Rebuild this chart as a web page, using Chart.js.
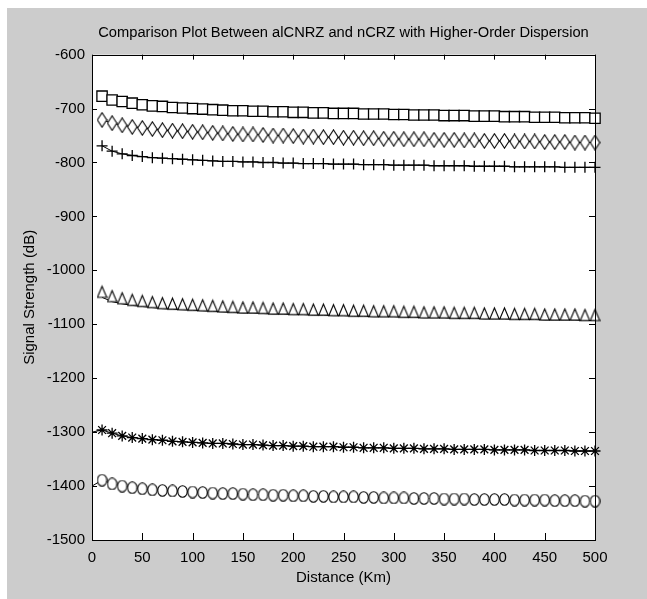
<!DOCTYPE html>
<html lang="en">
<head>
    <meta charset="UTF-8">
    <title>Comparison Plot</title>
    <style>
        body { margin: 0; background: #fff; }
        #fig { position: absolute; left: 7px; top: 8px; width: 640px; height: 591px; background: #cccccc; }
    </style>
</head>
<body>
    <div id="fig"><canvas id="plot" width="640" height="591"></canvas></div>
    <script src="https://cdn.jsdelivr.net/npm/chart.js@4.4.1/dist/chart.umd.min.js"></script>
    <script type="text/javascript">
        // distance in Km, one marker every 10 Km
        const distance = [10, 20, 30, 40, 50, 60, 70, 80, 90, 100,
            110, 120, 130, 140, 150, 160, 170, 180, 190, 200,
            210, 220, 230, 240, 250, 260, 270, 280, 290, 300,
            310, 320, 330, 340, 350, 360, 370, 380, 390, 400,
            410, 420, 430, 440, 450, 460, 470, 480, 490, 500];

        const squareSeries = [-677, -684, -687, -690, -693, -695, -696, -698, -699, -700,
            -701, -702, -703, -704, -704, -705, -705, -706, -706, -707,
            -707, -708, -708, -709, -709, -709, -710, -710, -710, -711,
            -711, -712, -712, -712, -713, -713, -713, -714, -714, -714,
            -715, -715, -715, -716, -716, -716, -717, -717, -717, -718];

        const diamondSeries = [-721, -727, -731, -734, -736, -738, -740, -741, -742, -743,
            -744, -745, -746, -747, -748, -748, -749, -750, -750, -751,
            -752, -752, -753, -753, -754, -754, -755, -755, -756, -756,
            -757, -757, -757, -758, -758, -758, -759, -759, -760, -760,
            -760, -761, -761, -761, -762, -762, -762, -763, -763, -763];

        const plusSeries = [-769, -779, -784, -787, -789, -791, -792, -793, -794, -795,
            -796, -797, -798, -798, -799, -799, -800, -800, -801, -801,
            -802, -802, -802, -803, -803, -803, -804, -804, -804, -805,
            -805, -805, -805, -806, -806, -806, -806, -807, -807, -807,
            -807, -808, -808, -808, -808, -808, -809, -809, -809, -809];

        // triangle trace: values read along the line, which runs on the triangle bases
        const triangleSeries = [-1050, -1058, -1062, -1065, -1067, -1069, -1071, -1072, -1073, -1074,
            -1075, -1076, -1077, -1078, -1079, -1079, -1080, -1081, -1081, -1082,
            -1082, -1083, -1083, -1084, -1084, -1085, -1085, -1086, -1086, -1086,
            -1087, -1087, -1088, -1088, -1088, -1089, -1089, -1089, -1090, -1090,
            -1090, -1091, -1091, -1091, -1092, -1092, -1092, -1092, -1093, -1093];

        const starSeries = [-1296, -1302, -1307, -1310, -1312, -1314, -1315, -1317, -1318, -1319,
            -1320, -1321, -1321, -1322, -1323, -1323, -1324, -1325, -1325, -1326,
            -1326, -1327, -1327, -1327, -1328, -1328, -1329, -1329, -1329, -1330,
            -1330, -1330, -1331, -1331, -1331, -1332, -1332, -1332, -1332, -1333,
            -1333, -1333, -1333, -1334, -1334, -1334, -1334, -1335, -1335, -1335];

        const circleSeries = [-1389, -1396, -1400, -1403, -1405, -1407, -1408, -1409, -1410, -1411,
            -1412, -1413, -1414, -1414, -1415, -1416, -1416, -1417, -1417, -1418,
            -1418, -1419, -1419, -1420, -1420, -1420, -1421, -1421, -1422, -1422,
            -1422, -1423, -1423, -1423, -1424, -1424, -1424, -1425, -1425, -1425,
            -1425, -1426, -1426, -1426, -1426, -1427, -1427, -1427, -1428, -1428];

        // the star and circle traces start at the axis (0 Km) without a marker
        const starStart = -1300;
        const circleStart = -1400;

        const xTicks = [0, 50, 100, 150, 200, 250, 300, 350, 400, 450, 500];
        const yTicks = [-1500, -1400, -1300, -1200, -1100, -1000, -900, -800, -700, -600];

        const FONT = "'Liberation Sans', Arial, sans-serif";
        const FSIZE = 15;

        // small canvases used as marker images (MATLAB markers are not square)
        function marker(w, h, draw) {
            const cv = document.createElement('canvas');
            cv.width = w; cv.height = h;
            const c = cv.getContext('2d');
            c.strokeStyle = '#000';
            c.fillStyle = '#fff';
            c.lineWidth = 1.1;
            c.beginPath();
            draw(c, w, h);
            c.fill();
            c.stroke();
            return cv;
        }
        const diamondImg = marker(11, 16, (c, w, h) => {
            c.moveTo(w / 2, 0.8); c.lineTo(w - 0.8, h / 2); c.lineTo(w / 2, h - 0.8); c.lineTo(0.8, h / 2); c.closePath();
        });
        const triangleImg = marker(11, 26, (c, w, h) => {
            c.moveTo(w / 2, 2); c.lineTo(w - 0.8, h / 2); c.lineTo(0.8, h / 2); c.closePath();
        });
        const circleImg = marker(11, 13, (c, w, h) => {
            c.ellipse(w / 2, h / 2, w / 2 - 0.8, h / 2 - 0.8, 0, 0, Math.PI * 2);
        });

        function toPoints(values, start) {
            const pts = distance.map((d, i) => ({ x: d, y: values[i] }));
            if (start !== undefined) pts.unshift({ x: 0, y: start });
            return pts;
        }

        function series(values, style, radius, start) {
            return {
                data: toPoints(values, start),
                borderColor: '#000',
                borderWidth: 1,
                pointStyle: start !== undefined ? (c => c.dataIndex === 0 ? false : style) : style,
                pointRadius: radius,
                pointBorderColor: '#000',
                pointBackgroundColor: '#fff',
                pointBorderWidth: 1.3,
                tension: 0,
                clip: false
            };
        }

        // white axes box, black frame and MATLAB-style inward ticks on all four sides
        const axesBox = {
            id: 'axesBox',
            beforeDatasetsDraw(chart) {
                const a = chart.chartArea;
                const c = chart.ctx;
                c.save();
                c.fillStyle = '#fff';
                c.fillRect(a.left, a.top, a.right - a.left, a.bottom - a.top);
                c.restore();
            },
            afterDatasetsDraw(chart) {
                const a = chart.chartArea;
                const c = chart.ctx;
                const xs = chart.scales.x, ys = chart.scales.y;
                c.save();
                c.strokeStyle = '#000';
                c.lineWidth = 1;
                c.strokeRect(Math.round(a.left) + 0.5, Math.round(a.top) + 0.5,
                    Math.round(a.right - a.left), Math.round(a.bottom - a.top));
                c.beginPath();
                xTicks.forEach(v => {
                    const px = Math.round(xs.getPixelForValue(v)) + 0.5;
                    c.moveTo(px, a.bottom); c.lineTo(px, a.bottom - 7);
                    c.moveTo(px, a.top); c.lineTo(px, a.top + 5);
                });
                yTicks.forEach(v => {
                    const py = Math.round(ys.getPixelForValue(v)) + 0.5;
                    c.moveTo(a.left, py); c.lineTo(a.left + 5, py);
                    c.moveTo(a.right, py); c.lineTo(a.right - 6, py);
                });
                c.stroke();
                c.restore();
            }
        };

        const ctx = document.getElementById('plot');

        new Chart(ctx, {
            type: 'line',
            data: {
                datasets: [
                    series(squareSeries, 'rect', 7.3),
                    series(diamondSeries, diamondImg, 6),
                    series(plusSeries, 'cross', 5.5),
                    series(triangleSeries, triangleImg, 6),
                    series(starSeries, 'star', 5.5, starStart),
                    series(circleSeries, circleImg, 6, circleStart)
                ]
            },
            options: {
                responsive: false,
                animation: false,
                layout: { padding: { top: 0, right: 52, bottom: 0, left: 0 } },
                plugins: {
                    legend: { display: false },
                    tooltip: { enabled: false },
                    title: {
                        display: true,
                        fullSize: false,
                        text: 'Comparison Plot Between alCNRZ and nCRZ with Higher-Order Dispersion',
                        color: '#000',
                        font: { family: FONT, size: 14.7, weight: 'normal' },
                        padding: { top: 16, bottom: 13 }
                    }
                },
                scales: {
                    x: {
                        type: 'linear',
                        min: 0,
                        max: 500,
                        afterBuildTicks: s => { s.ticks = xTicks.map(v => ({ value: v })); },
                        afterFit: s => { s.height = 59; },
                        grid: { display: false, drawTicks: false },
                        border: { display: false },
                        ticks: { color: '#000', padding: 9, maxRotation: 0, font: { family: FONT, size: FSIZE },
                            callback: v => String(v) },
                        title: {
                            display: true,
                            text: 'Distance (Km)',
                            color: '#000',
                            font: { family: FONT, size: FSIZE },
                            padding: { top: 0, bottom: 12 }
                        }
                    },
                    y: {
                        type: 'linear',
                        min: -1500,
                        max: -600,
                        afterBuildTicks: s => { s.ticks = yTicks.map(v => ({ value: v })); },
                        afterFit: s => { s.width = 85; },
                        grid: { display: false, drawTicks: false },
                        border: { display: false },
                        ticks: { color: '#000', padding: 7, font: { family: FONT, size: FSIZE },
                            callback: v => String(v) },
                        title: {
                            display: true,
                            text: 'Signal Strength (dB)',
                            color: '#000',
                            font: { family: FONT, size: FSIZE },
                            padding: { top: 14, bottom: 0 }
                        }
                    }
                }
            },
            plugins: [axesBox]
        });
    </script>
</body>
</html>
